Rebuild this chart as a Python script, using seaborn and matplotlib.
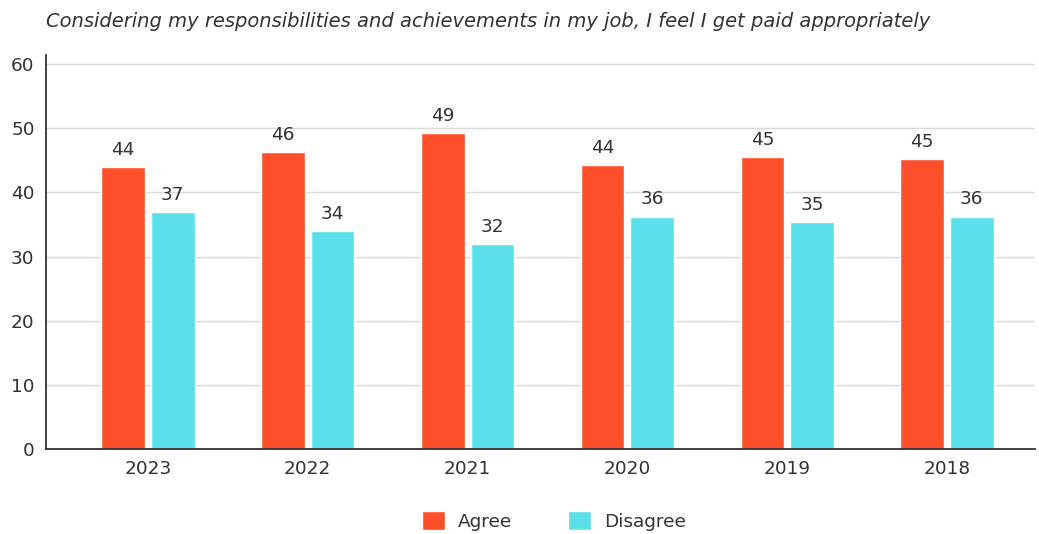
import matplotlib
matplotlib.use("Agg")
import matplotlib.pyplot as plt
import pandas as pd
import seaborn as sns

years = ["2023", "2022", "2021", "2020", "2019", "2018"]
agree = [43.9, 46.3, 49.2, 44.2, 45.5, 45.2]
disagree = [36.9, 34.0, 31.9, 36.2, 35.4, 36.2]
agree_labels = [44, 46, 49, 44, 45, 45]
disagree_labels = [37, 34, 32, 36, 35, 36]
title = "Considering my responsibilities and achievements in my job, I feel I get paid appropriately"

sns.set_theme(style="white")
plt.rcParams["font.family"] = ["DejaVu Sans"]
text_color = "#333333"

df = pd.DataFrame({
    "Year": years * 2,
    "Value": agree + disagree,
    "Response": ["Agree"] * len(years) + ["Disagree"] * len(years),
})

f = plt.figure(figsize=(10.39, 5.34), dpi=100)
ax = f.add_axes([0.044, 0.159, 0.952, 0.738])
sns.barplot(data=df, x="Year", y="Value", hue="Response", order=years,
            palette={"Agree": "#FF4F2A", "Disagree": "#5BDFE8"},
            width=0.62, gap=0.12, saturation=1, ax=ax, legend=True)

for cont, labels in zip(ax.containers, [agree_labels, disagree_labels]):
    ax.bar_label(cont, labels=[str(v) for v in labels], padding=6,
                 fontsize=13.3, color=text_color)

ax.set_ylim(0, 61.4)
ax.set_xlim(-0.64, 5.55)
ax.set_yticks(range(0, 61, 10))
ax.yaxis.grid(True, color="#d9d9d9", linewidth=1)
ax.set_axisbelow(True)
for s in ["top", "right"]:
    ax.spines[s].set_visible(False)
for s in ["left", "bottom"]:
    ax.spines[s].set_color(text_color)
    ax.spines[s].set_linewidth(1.3)
ax.tick_params(axis="both", labelsize=13.3, colors=text_color, length=0, pad=8)
ax.set_xlabel("")
ax.set_ylabel("")

f.text(0.044, 0.96, title, fontsize=14, style="italic", color=text_color, va="center")

handles, lbls = ax.get_legend_handles_labels()
ax.legend_.remove()
f.legend(handles, lbls, loc="center", bbox_to_anchor=(0.533, 0.025), ncol=2,
         frameon=False, fontsize=13.3, handlelength=1.25, handleheight=1.25,
         columnspacing=3.0, handletextpad=0.7, labelcolor=text_color)

f.savefig("out.png", dpi=100)
